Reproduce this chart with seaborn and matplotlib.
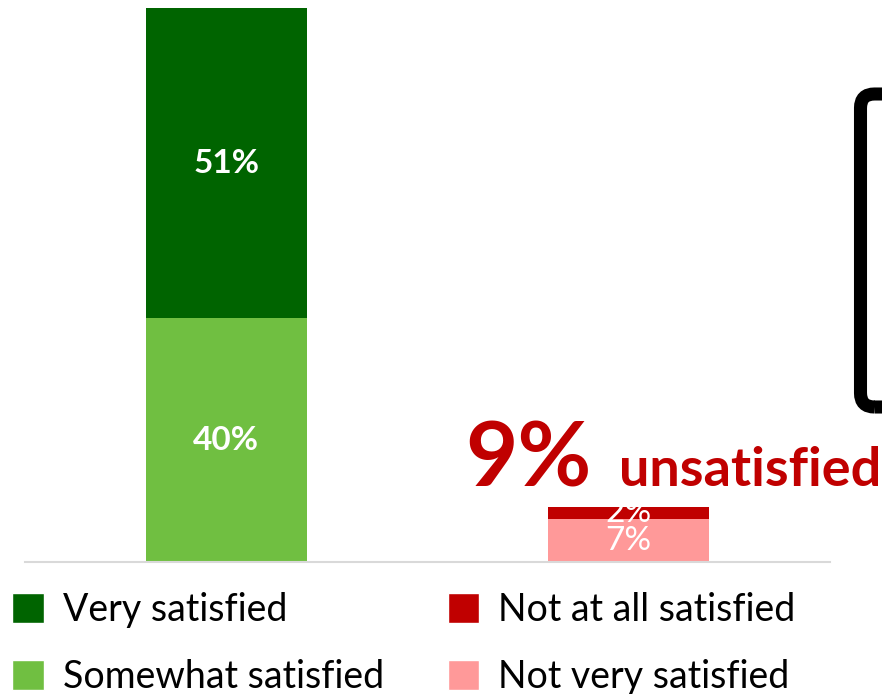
import numpy as np
import pandas as pd
import seaborn as sns
import matplotlib.pyplot as plt
from matplotlib.patches import Patch, FancyBboxPatch
from matplotlib.transforms import IdentityTransform

# data
groups = ['Satisfied', 'Unsatisfied']
bottom_vals = [40, 7]     # Somewhat satisfied / Not very satisfied
top_vals = [51, 2]        # Very satisfied / Not at all satisfied
bottom_names = ['Somewhat satisfied', 'Not very satisfied']
top_names = ['Very satisfied', 'Not at all satisfied']
bottom_colors = ['#70BF41', '#FF9999']
top_colors = ['#006400', '#C00000']

sns.set_theme(style='white')
plt.rcParams['font.family'] = ['Lato', 'DejaVu Sans']

fig = plt.figure(figsize=(8.82, 6.94), dpi=100)
ax = fig.add_axes([25 / 882, (694 - 562) / 694, 805 / 882, 562 / 694])

totals = np.array(bottom_vals) + np.array(top_vals)
df_top = pd.DataFrame({'group': groups, 'value': totals})
df_bot = pd.DataFrame({'group': groups, 'value': bottom_vals})

# stacked bars: totals first (top colour), then bottom segment over them
sns.barplot(data=df_top, x='group', y='value', hue='group',
            palette=dict(zip(groups, top_colors)), width=0.4,
            legend=False, ax=ax, saturation=1, linewidth=0)
sns.barplot(data=df_bot, x='group', y='value', hue='group',
            palette=dict(zip(groups, bottom_colors)), width=0.4,
            legend=False, ax=ax, saturation=1, linewidth=0)

ax.set_xlim(-0.5, 1.5)
ax.set_ylim(0, 92.3)
ax.set_xlabel('')
ax.set_ylabel('')
ax.set_xticks([])
ax.set_yticks([])
sns.despine(ax=ax, left=True, bottom=False)
ax.spines['bottom'].set_color('#d9d9d9')
ax.spines['bottom'].set_linewidth(1.5)

# segment labels
for i in range(len(groups)):
    wt = 'bold' if i == 0 else 'normal'
    ax.text(i, bottom_vals[i] / 2, f'{bottom_vals[i]}%', ha='center', va='center',
            color='white', fontsize=24, fontweight=wt)
    ax.text(i, bottom_vals[i] + top_vals[i] / 2, f'{top_vals[i]}%', ha='center',
            va='center', color='white', fontsize=24, fontweight=wt)

# callout
ax.text(0.594, 12.4, f'{totals[1]}%', color='#C00000', fontsize=65,
        fontweight='bold', va='baseline', ha='left')
ax.text(0.975, 12.4, 'unsatisfied', color='#C00000', fontsize=39,
        fontweight='bold', va='baseline', ha='left')

# partial rounded box at the right edge
box = FancyBboxPatch((860.5, 694 - 407), 300, 407 - 94,
                     boxstyle='round,pad=0,rounding_size=14',
                     fill=False, edgecolor='black', linewidth=9.4,
                     transform=IdentityTransform())
fig.patches.append(box)

# legend
handles = [Patch(facecolor=top_colors[0], label=top_names[0]),
           Patch(facecolor=bottom_colors[0], label=bottom_names[0]),
           Patch(facecolor=top_colors[1], label=top_names[1]),
           Patch(facecolor=bottom_colors[1], label=bottom_names[1])]
leg = fig.legend(handles=handles, ncol=2, loc='upper left',
                 bbox_to_anchor=(12 / 882, (694 - 592) / 694), frameon=False,
                 fontsize=27, handlelength=0.85, handleheight=0.85,
                 handletextpad=0.5, columnspacing=1.7, labelspacing=0.82,
                 borderpad=0, borderaxespad=0)
for t in leg.get_texts():
    t.set_color('black')

fig.savefig('out.png', dpi=100)
